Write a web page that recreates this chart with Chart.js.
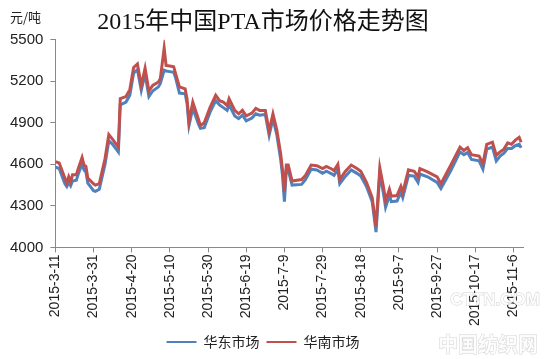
<!DOCTYPE html>
<html>
<head>
<meta charset="utf-8">
<script src="https://cdn.jsdelivr.net/npm/chart.js@4.4.1/dist/chart.umd.min.js"></script>
<style>
    html, body { margin: 0; padding: 0; background: #fff; }
    #wrap { width: 550px; height: 359px; }
</style>
</head>
<body>
<div id="wrap"><canvas id="ptaChart"></canvas></div>
<script>
// 距 2015-3-11 的天数
const days = [0, 2, 5, 6, 7, 8, 9, 11, 12, 14, 15, 16, 17, 20, 21, 23, 24, 26, 28, 30,
    33, 34, 37, 39, 41, 43, 45, 47, 49, 51, 54, 55, 57, 58, 60, 62, 63, 65, 68, 69,
    70, 72, 75, 76, 78, 81, 84, 86, 88, 90, 91, 94, 96, 98, 100, 103, 105, 107, 110, 112,
    114, 116, 118, 119, 120, 121, 122, 124, 129, 131, 134, 137, 140, 142, 145, 146, 148, 149, 152, 155,
    158, 160, 163, 166, 168, 170, 172, 173, 175, 176, 179, 181, 182, 185, 188, 190, 191, 195, 200, 202,
    207, 212, 214, 216, 218, 222, 224, 226, 229, 231, 233, 235, 237, 239, 241, 243, 244];

// 华东市场
const eastPrice = [4580, 4570, 4460, 4440, 4470, 4445, 4480, 4485, 4530, 4605,
    4560, 4545, 4465, 4410, 4405, 4420, 4480, 4600, 4770, 4745,
    4690, 5030, 5050, 5100, 5260, 5285, 5135, 5255, 5090, 5130,
    5160, 5185, 5280, 5275, 5270, 5265, 5225, 5115, 5110, 5040,
    4880, 5005, 4890, 4860, 4865, 4975, 5060, 5030, 5010, 4990,
    5030, 4950, 4930, 4955, 4915, 4935, 4965, 4955, 4960, 4810,
    4930, 4815, 4640, 4520, 4330, 4560, 4560, 4450, 4455, 4490,
    4565, 4560, 4535, 4550, 4530, 4520, 4565, 4460, 4515, 4560,
    4535, 4515, 4440, 4330, 4110, 4540, 4380, 4290, 4375, 4330,
    4335, 4400, 4360, 4520, 4515, 4470, 4530, 4510, 4470, 4425,
    4550, 4690, 4670, 4685, 4635, 4625, 4565, 4710, 4725, 4625,
    4660, 4680, 4715, 4715, 4735, 4745, 4720];

// 华南市场
const southPrice = [4620, 4610, 4500, 4465, 4510, 4475, 4525, 4525, 4570, 4650,
    4595, 4585, 4500, 4460, 4450, 4460, 4520, 4640, 4815, 4780,
    4725, 5075, 5090, 5140, 5300, 5325, 5170, 5295, 5130, 5170,
    5195, 5220, 5440, 5315, 5310, 5305, 5255, 5160, 5145, 5070,
    4910, 5050, 4925, 4880, 4900, 5010, 5100, 5060, 5050, 5025,
    5075, 4990, 4965, 4990, 4950, 4970, 5005, 4990, 4990, 4840,
    4965, 4850, 4680, 4560, 4400, 4595, 4595, 4480, 4490, 4520,
    4595, 4590, 4570, 4585, 4565, 4555, 4600, 4490, 4550, 4595,
    4570, 4550, 4470, 4360, 4150, 4575, 4430, 4335, 4420, 4370,
    4375, 4440, 4395, 4560, 4550, 4510, 4570, 4545, 4510, 4460,
    4590, 4725, 4700, 4720, 4670, 4660, 4605, 4745, 4760, 4665,
    4690, 4710, 4755, 4745, 4775, 4795, 4760];

const tickLabels = ['2015-3-11', '2015-3-31', '2015-4-20', '2015-5-10', '2015-5-30', '2015-6-19',
    '2015-7-9', '2015-7-29', '2015-8-18', '2015-9-7', '2015-9-27', '2015-10-17', '2015-11-6'];

const sansFont = "'Liberation Sans', Arial, sans-serif";
const cjkFont = "'Noto Sans CJK SC', sans-serif";

// 左上角单位 + 右下角水印
const extraText = {
    id: 'extraText',
    afterDraw(chart) {
        const ctx = chart.ctx;
        ctx.save();
        ctx.fillStyle = '#222';
        ctx.font = '13px ' + cjkFont;
        ctx.textBaseline = 'middle';
        ctx.textAlign = 'left';
        ctx.fillText('元/吨', 10, 17);

        ctx.font = 'bold 17px ' + sansFont;
        ctx.textAlign = 'right';
        ctx.lineWidth = 1;
        ctx.strokeStyle = 'rgba(170,170,170,0.5)';
        ctx.fillStyle = 'rgba(255,255,255,0.85)';
        ctx.strokeText('CTTN.COM', 540, 300);
        ctx.fillText('CTTN.COM', 540, 300);
        ctx.font = 'bold 20px ' + cjkFont;
        ctx.strokeText('中国纺织网', 538, 344);
        ctx.fillText('中国纺织网', 538, 344);
        ctx.restore();
    }
};

const ctx = document.getElementById('ptaChart').getContext('2d');
const ptaChart = new Chart(ctx, {
    type: 'line',
    data: {
        datasets: [
            {
                label: '华南市场',
                data: days.map((d, i) => ({ x: d, y: southPrice[i] })),
                borderColor: '#C0504D',
                backgroundColor: '#C0504D',
                borderWidth: 3
            },
            {
                label: '华东市场',
                data: days.map((d, i) => ({ x: d, y: eastPrice[i] })),
                borderColor: '#4F81BD',
                backgroundColor: '#4F81BD',
                borderWidth: 3
            }
        ]
    },
    options: {
        responsive: true,
        maintainAspectRatio: false,
        animation: false,
        elements: {
            point: { radius: 0 },
            line: { tension: 0 }
        },
        layout: {
            padding: { left: 3, right: 27, top: 0, bottom: 0 }
        },
        scales: {
            x: {
                type: 'linear',
                min: 0,
                max: 245,
                grid: {
                    drawOnChartArea: false,
                    tickLength: 5,
                    color: '#888'
                },
                border: { color: '#888' },
                ticks: {
                    stepSize: 20,
                    includeBounds: false,
                    autoSkip: false,
                    maxRotation: 90,
                    minRotation: 90,
                    padding: 2,
                    color: '#222',
                    font: { family: sansFont, size: 14 },
                    callback: function(value) {
                        return tickLabels[value / 20];
                    }
                }
            },
            y: {
                min: 4000,
                max: 5500,
                grid: {
                    drawOnChartArea: false,
                    tickLength: 5,
                    color: '#888'
                },
                border: { color: '#888' },
                ticks: {
                    stepSize: 300,
                    padding: 7,
                    color: '#222',
                    font: { family: sansFont, size: 15 },
                    callback: value => String(value)
                }
            }
        },
        plugins: {
            title: {
                display: true,
                text: '2015年中国PTA市场价格走势图',
                color: '#111',
                font: { family: "'Liberation Serif', 'Noto Sans CJK SC', serif", size: 24, weight: 'normal' },
                padding: { top: 8, bottom: 3 }
            },
            legend: {
                position: 'bottom',
                labels: {
                    boxWidth: 30,
                    boxHeight: 2,
                    padding: 7,
                    color: '#222',
                    font: { family: cjkFont, size: 14 },
                    sort: (a, b) => b.datasetIndex - a.datasetIndex,
                    generateLabels: function(chart) {
                        const items = Chart.defaults.plugins.legend.labels.generateLabels(chart);
                        items.forEach(item => { item.lineWidth = 0; });
                        return items;
                    }
                }
            },
            tooltip: { enabled: false }
        }
    },
    plugins: [extraText]
});
</script>
</body>
</html>
